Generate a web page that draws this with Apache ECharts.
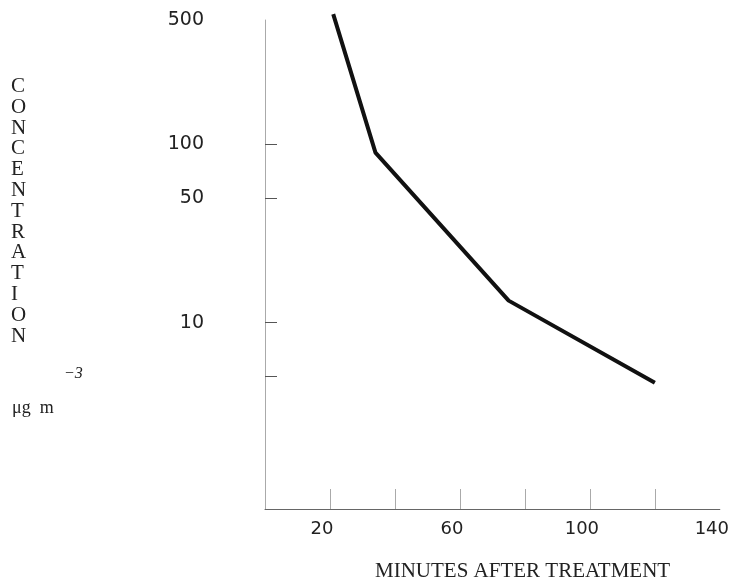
<!DOCTYPE html>
<html>
<head>
<meta charset="utf-8">
<script src="https://cdn.jsdelivr.net/npm/echarts@6/dist/echarts.min.js"></script>
<style>html,body{margin:0;padding:0;background:#fff}#c{width:732px;height:581px}</style>
</head>
<body>
<div id="c"></div>
<script>
// Data
const minutes = [21, 34, 75, 120];
const concentration = [540, 90, 13.3, 4.6];
const xTickValues = [20, 40, 60, 80, 100, 120];
const xLabelValues = [20, 60, 100, 140];
const yTickValues = [5, 10, 50, 100];
const yLabelValues = [10, 50, 100, 500];

const chart = echarts.init(document.getElementById('c'));
chart.setOption({
  animation: false,
  backgroundColor: '#fff',
  grid: { left: 265, right: 10, top: 20, bottom: 72 },
  xAxis: {
    type: 'value', min: 0, max: 140, interval: 20,
    splitLine: { show: false },
    axisLine: { lineStyle: { color: '#666', width: 1 } },
    axisTick: { inside: true, length: 20, customValues: xTickValues, lineStyle: { color: '#aaa' } },
    axisLabel: { customValues: xLabelValues, margin: 11, fontFamily: 'DejaVu Sans', fontSize: 18, color: '#222', padding: [0, 16, 0, 0] }
  },
  yAxis: {
    type: 'log', logBase: 10, min: 0.9, max: 500,
    splitLine: { show: false },
    axisLine: { lineStyle: { color: '#aaa', width: 1 } },
    axisTick: { inside: true, length: 12, customValues: yTickValues, lineStyle: { color: '#555' } },
    axisLabel: { customValues: yLabelValues, margin: 61, fontFamily: 'DejaVu Sans', fontSize: 19, color: '#222' }
  },
  series: [{
    type: 'line',
    data: minutes.map((m, i) => [m, concentration[i]]),
    showSymbol: false,
    clip: false,
    lineStyle: { color: '#111', width: 4 }
  }],
  graphic: [
    { type: 'text', left: 11, top: 76, style: { text: 'CONCENTRATION'.split('').join('\n'), font: '21px "Liberation Serif"', lineHeight: 20.8, fill: '#222', align: 'left' } },
    { type: 'text', left: 12, top: 399, style: { text: 'μg  m', font: '18px "Liberation Serif"', fill: '#222' } },
    { type: 'text', left: 64, top: 366, style: { text: '−3', font: 'italic 16px "Liberation Serif"', fill: '#222' } },
    { type: 'text', left: 375, top: 561, style: { text: 'MINUTES AFTER TREATMENT', font: '21px "Liberation Serif"', fill: '#222' } }
  ]
});
</script>
</body>
</html>
